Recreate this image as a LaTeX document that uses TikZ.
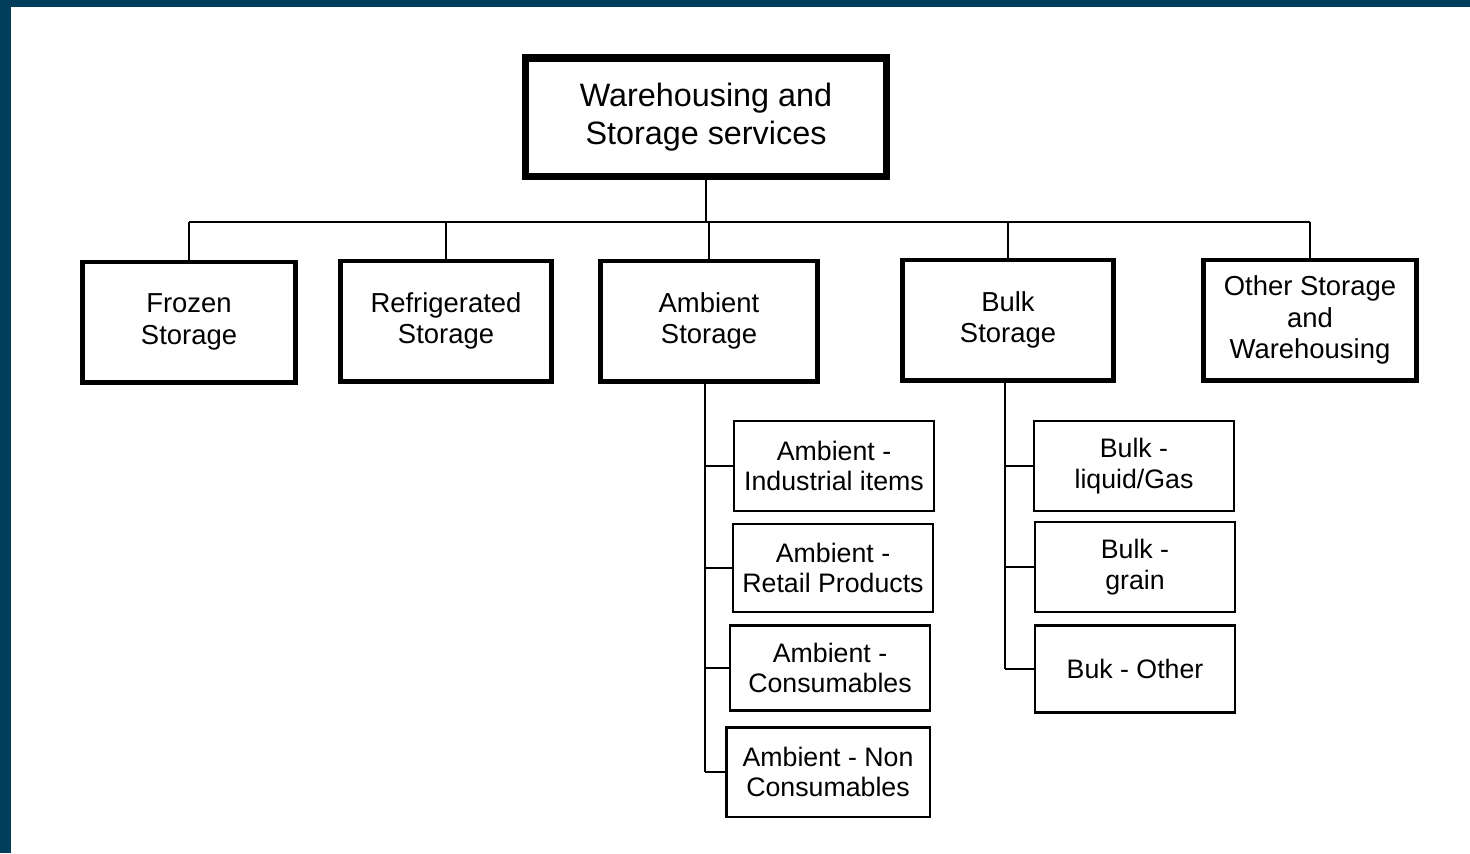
\documentclass[tikz,border=0pt]{standalone}
\usepackage{fontspec}
\setmainfont{Liberation Sans}
\definecolor{frame}{RGB}{0,62,92}
\begin{document}
\begin{tikzpicture}[x=0.01cm, y=-0.01cm,
    topbox/.style={draw, line width=2pt, align=center, minimum width=3.61cm, minimum height=1.18cm,
      font=\fontsize{9.2pt}{10.8pt}\selectfont},
    mainbox/.style={draw, line width=1.4pt, align=center, minimum height=1.2cm,
      font=\fontsize{7.8pt}{9pt}\selectfont},
    subbox/.style={draw, line width=0.6pt, align=center, minimum width=2cm, inner sep=1pt,
      font=\fontsize{7.6pt}{8.6pt}\selectfont},
    link/.style={line width=0.6pt}]
        \useasboundingbox (0, 0) rectangle (1470, 853);
        \fill [frame] (0, 0) rectangle (1470, 7);
        \fill [frame] (0, 0) rectangle (11, 853);

        \node [topbox] (top) at (706, 117) {Warehousing and\\Storage services};

        \node [mainbox, minimum width=2.13cm] (frozen) at (189, 322) {Frozen\\Storage};
        \node [mainbox, minimum width=2.10cm] (fridge) at (446, 321) {Refrigerated\\Storage};
        \node [mainbox, minimum width=2.16cm] (ambient) at (709, 321) {Ambient\\Storage};
        \node [mainbox, minimum width=2.10cm] (bulk) at (1008, 320) {Bulk\\Storage};
        \node [mainbox, minimum width=2.13cm] (other) at (1310, 320) {Other Storage\\and\\Warehousing};

        \node [subbox, minimum height=0.90cm] (amb1) at (834, 466) {Ambient -\\Industrial items};
        \node [subbox, minimum height=0.88cm] (amb2) at (833, 568) {Ambient -\\Retail Products};
        \node [subbox, minimum height=0.85cm] (amb3) at (830, 668) {Ambient -\\Consumables};
        \node [subbox, minimum height=0.89cm, minimum width=2.03cm] (amb4) at (828, 772) {Ambient - Non\\Consumables};

        \node [subbox, minimum height=0.90cm] (bulk1) at (1134, 466) {Bulk -\\liquid/Gas};
        \node [subbox, minimum height=0.90cm] (bulk2) at (1135, 567) {Bulk -\\grain};
        \node [subbox, minimum height=0.87cm] (bulk3) at (1135, 669) {Buk - Other};

        \coordinate (bus) at (706, 222);
        \coordinate (aspine) at (705, 0);
        \coordinate (bspine) at (1005, 0);

        \draw [link] (top.south) -- (bus);
        \draw [link] (bus -| frozen.north) -- (bus -| other.north);
        \foreach \unit in {frozen, fridge, ambient, bulk, other}
          \draw [link] (\unit.north) -- (bus -| \unit.north);

        \draw [link] (aspine |- ambient.south) -- (aspine |- amb4.west);
        \foreach \unit in {amb1, amb2, amb3, amb4}
          \draw [link] (aspine |- \unit.west) -- (\unit.west);

        \draw [link] (bspine |- bulk.south) -- (bspine |- bulk3.west);
        \foreach \unit in {bulk1, bulk2, bulk3}
          \draw [link] (bspine |- \unit.west) -- (\unit.west);
      \end{tikzpicture}
\end{document}
